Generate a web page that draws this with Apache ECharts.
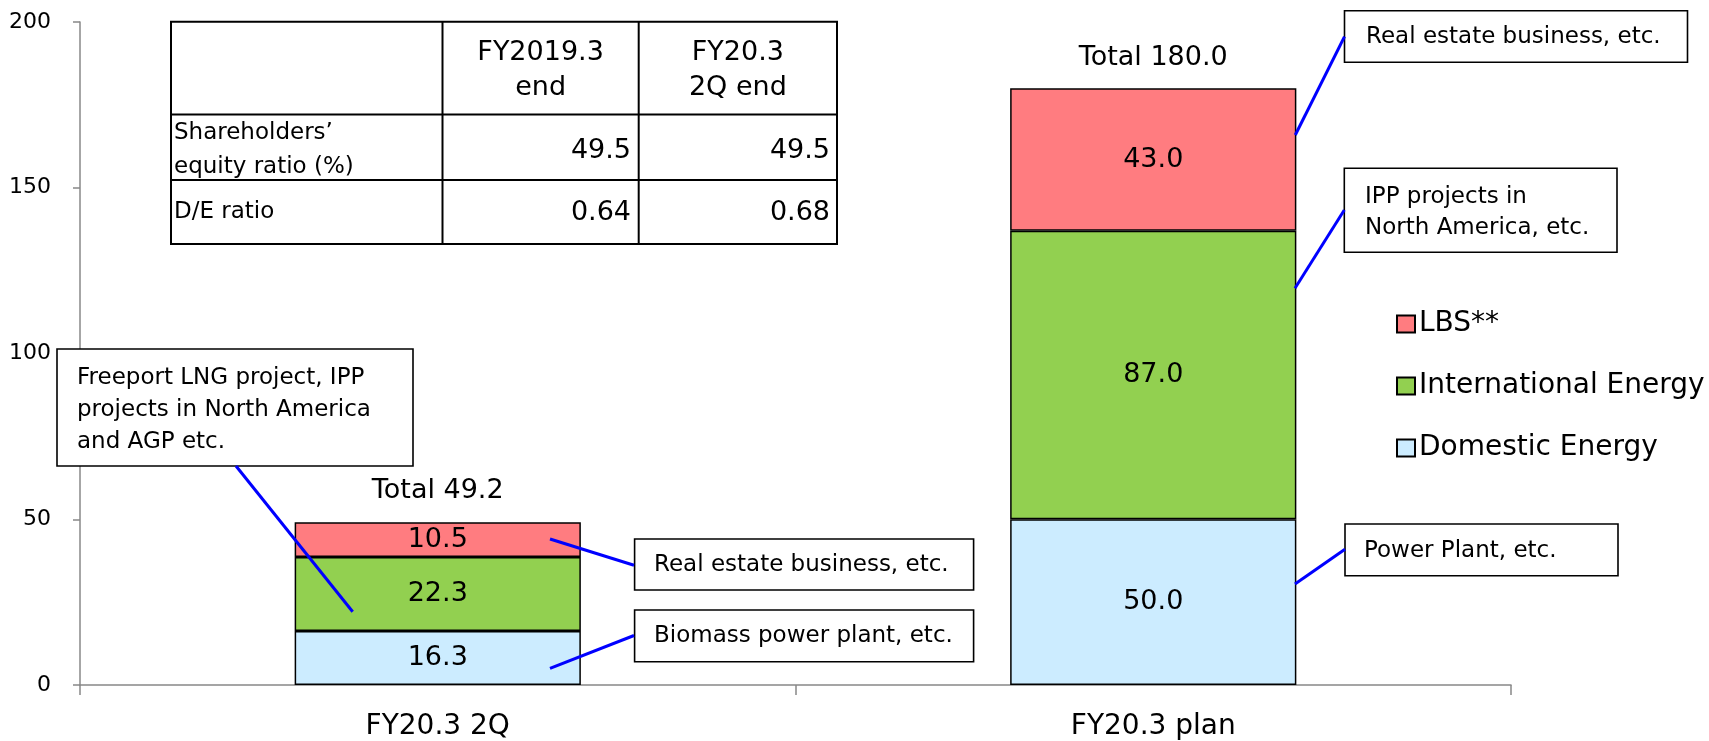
<!DOCTYPE html>
<html>
<head>
<meta charset="utf-8">
<script src="https://cdn.jsdelivr.net/npm/echarts@6/dist/echarts.min.js"></script>
<style>
html,body{margin:0;padding:0;background:#fff;}
#chart{width:1709px;height:741px;}
</style>
</head>
<body>
<div id="chart"></div>
<script>
// ---- data ----
const categories = ['FY20.3 2Q', 'FY20.3 plan'];
const domesticEnergy = [16.3, 50.0];
const internationalEnergy = [22.3, 87.0];
const lbs = [10.5, 43.0];
const totals = [49.2, 180.0];
const seriesNames = ['Domestic Energy', 'International Energy', 'LBS**'];
const legendOrder = ['LBS**', 'International Energy', 'Domestic Energy'];
const yTicks = [0, 50, 100, 150, 200];

const tableHeader = [['FY2019.3', 'end'], ['FY20.3', '2Q end']];
const tableRowLabels = [["Shareholders’", 'equity ratio (%)'], ['D/E ratio']];
const tableValues = [['49.5', '49.5'], ['0.64', '0.68']];

const callouts = [
  { lines: ['Freeport LNG project, IPP', 'projects in North America', 'and AGP etc.'] },
  { lines: ['Real estate business, etc.'] },
  { lines: ['Biomass power plant, etc.'] },
  { lines: ['Real estate business, etc.'] },
  { lines: ['IPP projects in', 'North America, etc.'] },
  { lines: ['Power Plant, etc.'] }
];

// ---- styling / layout ----
const FONT = "'DejaVu Sans', Verdana, sans-serif";
const colors = ['#CCECFF', '#92D050', '#FF7C80'];

function txt(text, x, y, size, align) {
  return {
    type: 'text', z: 100,
    style: {
      text: text, x: x, y: y,
      font: size + 'px ' + FONT,
      fill: '#000',
      align: align || 'left', textAlign: align || 'left',
      verticalAlign: 'middle', textVerticalAlign: 'middle'
    }
  };
}
function box(x, y, w, h) {
  return { type: 'rect', z: 90, shape: { x: x, y: y, width: w, height: h },
    style: { fill: '#fff', stroke: '#000', lineWidth: 1.6 } };
}
function seg(x1, y1, x2, y2, color, w) {
  return { type: 'line', z: 95, shape: { x1: x1, y1: y1, x2: x2, y2: y2 },
    style: { stroke: color || '#000', lineWidth: w || 1.6 } };
}

const graphics = [];
// table
const tx = [171, 442.5, 638.7, 837];
const ty = [21.7, 114.5, 180, 244];
graphics.push({ type: 'rect', z: 90, shape: { x: tx[0], y: ty[0], width: tx[3] - tx[0], height: ty[3] - ty[0] },
  style: { fill: '#fff', stroke: '#000', lineWidth: 2 } });
graphics.push(seg(tx[1], ty[0], tx[1], ty[3], '#000', 2));
graphics.push(seg(tx[2], ty[0], tx[2], ty[3], '#000', 2));
graphics.push(seg(tx[0], ty[1], tx[3], ty[1], '#000', 2));
graphics.push(seg(tx[0], ty[2], tx[3], ty[2], '#000', 2));
tableHeader.forEach(function (h, i) {
  const cx = (tx[i + 1] + tx[i + 2]) / 2;
  graphics.push(txt(h[0], cx, 53, 27, 'center'));
  graphics.push(txt(h[1], cx, 88, 27, 'center'));
});
graphics.push(txt(tableRowLabels[0][0], 174, 133, 23));
graphics.push(txt(tableRowLabels[0][1], 174, 167, 23));
graphics.push(txt(tableRowLabels[1][0], 174, 212.5, 23));
tableValues.forEach(function (row, r) {
  const cy = r === 0 ? 151 : 212.5;
  graphics.push(txt(row[0], 631, cy, 27, 'right'));
  graphics.push(txt(row[1], 830, cy, 27, 'right'));
});

// callouts (annotation boxes with blue leader lines)
const BLUE = '#0000FF';
const cfs = 23;
// Freeport
graphics.push(box(57, 349, 356, 117));
callouts[0].lines.forEach(function (l, i) { graphics.push(txt(l, 77, 378 + i * 32, cfs)); });
graphics.push(seg(236, 466, 352.7, 611.7, BLUE, 3));
// Real estate (left)
graphics.push(box(634.6, 539, 339, 51));
graphics.push(txt(callouts[1].lines[0], 654, 565.5, cfs));
graphics.push(seg(550, 539, 634, 565.3, BLUE, 3));
// Biomass
graphics.push(box(634.6, 610, 339, 51.7));
graphics.push(txt(callouts[2].lines[0], 654, 636.5, cfs));
graphics.push(seg(550, 668.3, 634, 635.5, BLUE, 3));
// Real estate (right)
graphics.push(box(1344.5, 10.7, 343, 51.6));
graphics.push(txt(callouts[3].lines[0], 1366, 37.5, cfs));
graphics.push(seg(1295.3, 135, 1344.5, 36.7, BLUE, 3));
// IPP
graphics.push(box(1344.3, 168.3, 272.7, 84));
callouts[4].lines.forEach(function (l, i) { graphics.push(txt(l, 1365, 196.7 + i * 31.6, cfs)); });
graphics.push(seg(1295, 288.3, 1344.3, 210, BLUE, 3));
// Power plant
graphics.push(box(1345, 524, 273, 51.7));
graphics.push(txt(callouts[5].lines[0], 1364, 551, cfs));
graphics.push(seg(1295, 584, 1345, 549.3, BLUE, 3));

const chart = echarts.init(document.getElementById('chart'));

const barSeries = [domesticEnergy, internationalEnergy, lbs].map(function (d, i) {
  return {
    name: seriesNames[i], type: 'bar', stack: 'total', data: d,
    barWidth: '40%',
    itemStyle: { color: colors[i], borderColor: '#000', borderWidth: 1.5 },
    label: {
      show: true, position: 'inside', color: '#000', fontFamily: FONT, fontSize: 27,
      formatter: function (p) { return p.value.toFixed(1); }
    },
    emphasis: { disabled: true }
  };
});

chart.setOption({
  animation: false,
  backgroundColor: '#fff',
  grid: { left: 80, right: 198, top: 22, bottom: 56 },
  legend: {
    data: legendOrder, orient: 'vertical', left: 1391, top: 302,
    icon: 'rect', itemWidth: 18, itemHeight: 17, itemGap: 28,
    textStyle: { fontFamily: FONT, fontSize: 28, color: '#000', lineHeight: 34, padding: [0, 0, 0, -1] },
    selectedMode: false
  },
  xAxis: {
    type: 'category', data: categories,
    axisLine: { lineStyle: { color: '#888', width: 1.5 } },
    axisTick: { show: true, length: 10, lineStyle: { color: '#888', width: 1.5 } },
    axisLabel: { fontFamily: FONT, fontSize: 28, color: '#000', margin: 28 }
  },
  yAxis: {
    type: 'value', min: yTicks[0], max: yTicks[yTicks.length - 1], interval: yTicks[1] - yTicks[0],
    axisLine: { show: true, lineStyle: { color: '#888', width: 1.5 } },
    axisTick: { show: true, length: 7, lineStyle: { color: '#888', width: 1.5 } },
    axisLabel: { fontFamily: FONT, fontSize: 22, color: '#000', margin: 29 },
    splitLine: { show: false }
  },
  series: barSeries.concat([{
    name: 'Total', type: 'scatter', data: totals, symbolSize: 0, silent: true,
    itemStyle: { opacity: 1, color: '#000' },
    label: {
      show: true, position: 'top', distance: 17, color: '#000', fontFamily: FONT, fontSize: 27,
      formatter: function (p) { return 'Total ' + p.value.toFixed(1); }
    }
  }]),
  graphic: { elements: graphics }
});
</script>
</body>
</html>
